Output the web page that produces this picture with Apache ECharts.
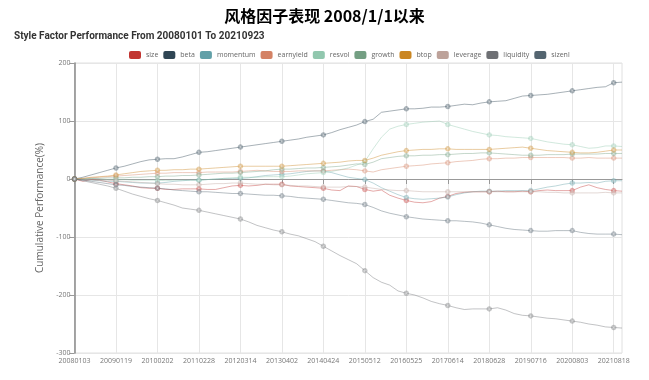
<!DOCTYPE html>
<html><head><meta charset="utf-8">
<script src="https://cdn.jsdelivr.net/npm/echarts@6/dist/echarts.min.js"></script>
<style>html,body{margin:0;padding:0;background:#fff}#c{width:649px;height:380px}</style>
</head><body><div id="c"></div>
<script>
const mainTitle = '风格因子表现 2008/1/1以来';
const subTitle = 'Style Factor Performance From 20080101 To 20210923';
const yAxisName = 'Cumulative Performance(%)';
const dates = ['20080103','20080318','20080530','20080815','20081030','20090119','20090403','20090617','20090828','20091116',
'20100202','20100426','20100709','20100920','20101201','20110228','20110512','20110722','20111010','20111221',
'20120314','20120528','20120808','20121024','20130110','20130402','20130617','20130828','20131114','20140130',
'20140424','20140708','20140917','20141203','20150220','20150512','20150723','20151012','20151222','20160310',
'20160525','20160808','20161024','20170104','20170321','20170614','20170825','20171113','20180124','20180412',
'20180628','20180910','20181126','20190212','20190425','20190716','20190925','20191211','20200302','20200515',
'20200803','20201020','20201228','20210312','20210526','20210818','20210923'];
const names = ['size','beta','momentum','earnyield','resvol','growth','btop','leverage','liquidity','sizenl'];
const colors = ['#c23531','#2f4554','#61a0a8','#d48265','#91c7ae','#749f83','#ca8622','#bda29a','#6e7074','#546570'];
const yTicks = {min:-300, max:200, interval:100};

const size = [0,-4,-1,-2,-5,-8,-10,-12,-15,-16,-16,-18,-18,-17,-17,-17,-18,-18,-15,-12,-11,-12,-11,-9,-9,-9,-12,-13,-14,-15,-16,-19,-20,-12,-13,-18,-21,-19,-28,-33,-37,-40,-41,-39,-33,-30,-25,-23,-22,-22,-22,-21,-22,-22,-21,-22,-20,-19,-20,-20,-20,-14,-10,-15,-18,-20,-21];
const beta = [0,3,7,11,15,19,22,26,30,33,34,35,35,38,42,46,47,49,51,53,55,57,59,61,63,65,67,69,72,74,76,80,85,89,93,99,103,115,117,119,121,121,122,124,124,125,127,129,128,131,133,134,135,139,143,144,145,146,148,150,152,154,156,158,159,166,167];
const momentum = [0,-1,-2,-3,-4,-4,-5,-6,-7,-7,-7,-6,-4,-3,-2,-2,-1,0,1,1,1,2,4,6,7,8,9,11,13,14,14,11,7,3,1,-1,-7,-15,-21,-27,-32,-34,-35,-34,-33,-31,-27,-24,-22,-21,-21,-21,-20,-20,-20,-20,-17,-14,-12,-9,-7,-7,-6,-7,-4,-3,-3];
const earnyield = [0,1,2,3,4,5,6,7,8,9,10,10,11,11,11,11,12,12,12,12,13,14,15,14,13,13,13,14,14,14,14,15,16,17,16,14,12,16,18,20,22,23,24,26,27,28,30,31,32,34,35,35,36,36,37,37,37,37,37,37,36,36,37,36,36,36,36];
const resvol = [0,0,1,0,-1,-1,-1,-2,-2,-2,-2,-3,-2,-2,-2,-2,-1,0,1,2,3,3,3,4,4,4,5,7,9,10,11,13,16,19,24,30,52,72,86,91,94,96,98,99,100,94,90,86,82,79,76,75,73,72,71,70,67,64,62,60,59,56,53,54,57,57,56];
const growth = [0,0,1,1,2,2,2,3,3,4,4,5,5,6,6,7,8,9,10,10,11,12,13,14,16,17,17,18,19,19,20,21,22,24,26,25,29,35,37,39,40,40,41,41,42,42,43,44,44,45,45,44,43,42,41,41,41,42,42,42,43,43,43,43,44,44,44];
const btop = [0,1,3,4,5,7,9,11,13,14,15,15,16,16,17,17,18,19,20,21,22,22,22,22,22,22,23,24,25,26,27,28,29,31,32,32,36,41,44,47,49,50,51,51,52,52,51,51,51,51,51,52,53,54,55,53,51,49,48,47,46,45,45,46,48,50,50];
const leverage = [0,-1,-1,-2,-2,-3,-4,-5,-6,-7,-8,-9,-9,-10,-10,-10,-9,-8,-8,-7,-7,-8,-9,-9,-10,-10,-11,-12,-12,-13,-14,-14,-14,-13,-13,-14,-16,-18,-19,-20,-20,-21,-22,-22,-22,-22,-22,-22,-22,-22,-22,-22,-22,-22,-22,-22,-22,-23,-23,-24,-24,-24,-24,-24,-23,-24,-24];
const liquidity = [0,-3,-6,-9,-12,-16,-21,-26,-30,-34,-37,-41,-45,-50,-52,-54,-57,-60,-63,-66,-69,-74,-80,-84,-88,-91,-95,-98,-103,-108,-116,-124,-132,-139,-146,-158,-170,-178,-183,-193,-197,-200,-205,-211,-215,-218,-222,-225,-224,-224,-224,-222,-226,-232,-235,-236,-238,-240,-241,-243,-245,-247,-250,-252,-255,-256,-257];
const sizenl = [0,-2,-4,-6,-8,-10,-11,-13,-14,-15,-16,-17,-19,-20,-21,-22,-22,-23,-24,-25,-25,-26,-27,-28,-28,-29,-30,-32,-33,-34,-35,-37,-39,-41,-42,-44,-49,-55,-59,-62,-65,-67,-69,-70,-71,-72,-72,-73,-74,-76,-79,-82,-85,-87,-88,-89,-90,-90,-89,-89,-89,-92,-94,-95,-95,-95,-96];

const seriesData = [size,beta,momentum,earnyield,resvol,growth,btop,leverage,liquidity,sizenl];
const labelFont = 'Open Sans, Noto Sans, sans-serif';

const chart = echarts.init(document.getElementById('c'), null, {renderer:'canvas'});
chart.setOption({
  animation:false,
  color: colors,
  title:[
    {text: mainTitle, left: 'center', top: 3, textStyle:{fontFamily:'Noto Sans CJK SC', fontWeight:'bold', fontSize:16, color:'#000'}},
    {text: subTitle, left: 9, top: 26, textStyle:{fontFamily:'Roboto, sans-serif', fontWeight:'bold', fontSize:10, color:'#333'}}
  ],
  legend:{
    data: names, left: 124, top: 46, itemWidth: 12, itemHeight: 8, itemGap: 5, icon:'roundRect',
    itemStyle:{opacity:1},
    textStyle:{fontSize:7, color:'#666', fontFamily:labelFont}
  },
  grid:{left:74.5, right:27, top:63, bottom:27, show:true, borderColor:'#e0e0e0', borderWidth:1},
  xAxis:{
    type:'category', data: dates, boundaryGap:false,
    axisLine:{lineStyle:{color:'#999'}},
    axisTick:{interval:4, lineStyle:{color:'#999'}},
    axisLabel:{interval:4, fontSize:7, color:'#777', margin:4, fontFamily:labelFont},
    splitLine:{show:true, interval:4, lineStyle:{color:'#e6e6e6'}}
  },
  yAxis:{
    type:'value', min:yTicks.min, max:yTicks.max, interval:yTicks.interval,
    name: yAxisName, nameLocation:'middle', nameGap:24,
    nameTextStyle:{fontSize:10, color:'#666', fontFamily:labelFont},
    axisLine:{show:true, lineStyle:{color:'#888', width:1.5}},
    axisTick:{show:true, lineStyle:{color:'#999'}},
    axisLabel:{fontSize:7, color:'#777', margin:4, fontFamily:labelFont},
    splitLine:{show:true, lineStyle:{color:'#e6e6e6'}}
  },
  series: names.map((n,i)=>({
    name:n, type:'line', data: seriesData[i], showAllSymbol:false, symbol:'emptyCircle', symbolSize:3.5,
    lineStyle:{width:1, opacity:0.42}, itemStyle:{opacity:0.4}
  }))
});
</script></body></html>
